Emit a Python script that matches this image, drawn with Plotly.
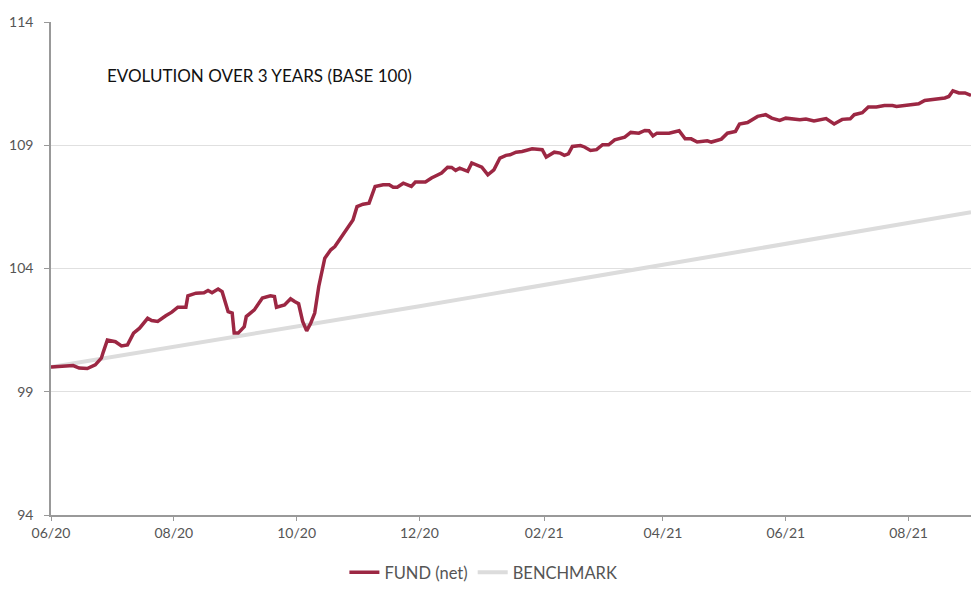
import plotly.graph_objects as go

# ---- data ----
fund_dates = [
    "2020-06-01", "2020-06-06", "2020-06-12", "2020-06-15", "2020-06-19", "2020-06-23", "2020-06-26", "2020-06-27",
    "2020-06-29", "2020-07-03", "2020-07-06", "2020-07-09", "2020-07-12", "2020-07-15", "2020-07-19", "2020-07-21",
    "2020-07-24", "2020-07-28", "2020-07-31", "2020-08-03", "2020-08-07", "2020-08-08", "2020-08-12", "2020-08-16",
    "2020-08-18", "2020-08-20", "2020-08-23", "2020-08-25", "2020-08-27", "2020-08-28", "2020-08-30", "2020-08-31",
    "2020-09-02", "2020-09-05", "2020-09-06", "2020-09-10", "2020-09-14", "2020-09-18", "2020-09-20", "2020-09-21",
    "2020-09-25", "2020-09-28", "2020-09-30", "2020-10-02", "2020-10-04", "2020-10-06", "2020-10-08", "2020-10-10",
    "2020-10-12", "2020-10-13", "2020-10-15", "2020-10-18", "2020-10-20", "2020-10-24", "2020-10-27", "2020-10-29",
    "2020-10-31", "2020-11-03", "2020-11-06", "2020-11-09", "2020-11-13", "2020-11-16", "2020-11-18", "2020-11-20",
    "2020-11-23", "2020-11-27", "2020-11-29", "2020-12-04", "2020-12-07", "2020-12-12", "2020-12-15", "2020-12-17",
    "2020-12-19", "2020-12-21", "2020-12-25", "2020-12-27", "2021-01-01", "2021-01-04", "2021-01-07", "2021-01-10",
    "2021-01-13", "2021-01-15", "2021-01-18", "2021-01-21", "2021-01-26", "2021-01-30", "2021-01-31", "2021-02-02",
    "2021-02-06", "2021-02-09", "2021-02-11", "2021-02-13", "2021-02-15", "2021-02-19", "2021-02-21", "2021-02-24",
    "2021-02-27", "2021-03-02", "2021-03-05", "2021-03-08", "2021-03-13", "2021-03-16", "2021-03-20", "2021-03-23",
    "2021-03-25", "2021-03-27", "2021-03-29", "2021-04-04", "2021-04-07", "2021-04-09", "2021-04-12", "2021-04-15",
    "2021-04-18", "2021-04-23", "2021-04-25", "2021-04-30", "2021-05-03", "2021-05-07", "2021-05-09", "2021-05-13",
    "2021-05-18", "2021-05-22", "2021-05-25", "2021-05-29", "2021-06-01", "2021-06-05", "2021-06-08", "2021-06-11",
    "2021-06-15", "2021-06-21", "2021-06-25", "2021-06-29", "2021-07-03", "2021-07-05", "2021-07-09", "2021-07-12",
    "2021-07-16", "2021-07-20", "2021-07-24", "2021-07-26", "2021-07-29", "2021-08-03", "2021-08-06", "2021-08-09",
    "2021-08-15", "2021-08-19", "2021-08-21", "2021-08-23", "2021-08-26", "2021-08-29", "2021-09-01",
]
fund_values = [
    100.00, 100.03, 100.06, 99.96, 99.94, 100.09, 100.36, 100.62,
    101.10, 101.03, 100.86, 100.90, 101.38, 101.58, 101.98, 101.89,
    101.85, 102.08, 102.23, 102.43, 102.43, 102.89, 103.00, 103.02,
    103.11, 103.02, 103.17, 103.06, 102.59, 102.25, 102.19, 101.38,
    101.38, 101.64, 102.05, 102.32, 102.80, 102.89, 102.86, 102.43,
    102.52, 102.77, 102.66, 102.57, 101.85, 101.47, 101.78, 102.19,
    103.27, 103.67, 104.42, 104.76, 104.89, 105.37, 105.77, 105.97,
    106.51, 106.61, 106.65, 107.33, 107.40, 107.40, 107.30, 107.30,
    107.46, 107.33, 107.51, 107.51, 107.67, 107.87, 108.11, 108.10,
    107.98, 108.07, 107.94, 108.28, 108.11, 107.80, 108.00, 108.48,
    108.59, 108.61, 108.72, 108.75, 108.86, 108.84, 108.82, 108.52,
    108.72, 108.68, 108.59, 108.65, 108.95, 108.99, 108.93, 108.79,
    108.82, 109.02, 109.02, 109.22, 109.33, 109.52, 109.49, 109.60,
    109.59, 109.38, 109.49, 109.49, 109.56, 109.59, 109.26, 109.26,
    109.13, 109.18, 109.13, 109.25, 109.49, 109.56, 109.86, 109.92,
    110.17, 110.24, 110.10, 110.01, 110.10, 110.07, 110.03, 110.06,
    109.99, 110.08, 109.86, 110.05, 110.07, 110.24, 110.32, 110.55,
    110.55, 110.61, 110.61, 110.57, 110.60, 110.64, 110.68, 110.82,
    110.87, 110.92, 110.98, 111.21, 111.12, 111.12, 111.02,
]

bench_dates = [
    "2020-06-01", "2020-07-01", "2020-08-01", "2020-09-01", "2020-10-01", "2020-11-01",
    "2020-12-01", "2021-01-01", "2021-02-01", "2021-03-01", "2021-04-01", "2021-05-01",
    "2021-06-01", "2021-07-01", "2021-08-01", "2021-09-01",
]
bench_values = [
    100.00, 100.40, 100.82, 101.24, 101.64, 102.06,
    102.47, 102.90, 103.33, 103.71, 104.14, 104.55,
    104.99, 105.40, 105.85, 106.28,
]

y_ticks = [94, 99, 104, 109, 114]
series_names = ["FUND (net)", "BENCHMARK"]
chart_title = "EVOLUTION OVER 3 YEARS (BASE 100)"

FUND_COLOR = "#9C2743"
BENCH_COLOR = "#DCDCDC"
FONT = "Lato, 'Open Sans', sans-serif"

fig = go.Figure()
fig.add_trace(go.Scatter(
    x=bench_dates, y=bench_values, name=series_names[1], mode="lines",
    line=dict(color=BENCH_COLOR, width=4), hoverinfo="skip",
))
fig.add_trace(go.Scatter(
    x=fund_dates, y=fund_values, name=series_names[0], mode="lines",
    line=dict(color=FUND_COLOR, width=3.5),
))

fig.update_layout(
    width=971, height=590,
    margin=dict(l=51, r=0, t=22, b=75, autoexpand=False),
    paper_bgcolor="white", plot_bgcolor="white",
    font=dict(family=FONT, color="#555555", size=13),
    showlegend=True,
    legend=dict(
        orientation="h", x=0.47, xanchor="center",
        yref="container", y=0.0, yanchor="bottom",
        font=dict(size=16.5, color="#555555", family=FONT),
        traceorder="reversed", itemwidth=30,
    ),
    annotations=[dict(
        text=chart_title, xref="paper", yref="paper", x=0.0587, y=0.891,
        xanchor="left", yanchor="middle", showarrow=False,
        font=dict(size=17, color="#111111", family=FONT),
    )],
)
fig.update_xaxes(
    type="date", range=["2020-06-01", "2021-09-01"],
    tickformat="%m/%y", dtick="M2", tick0="2020-06-01",
    showgrid=False, showline=True, linecolor="#999999", linewidth=1.5,
    ticks="outside", ticklen=4, tickcolor="#999999",
    tickfont=dict(size=14, color="#555555"),
    zeroline=False,
)
fig.update_yaxes(
    range=[94, 114], tickvals=y_ticks,
    showgrid=True, gridcolor="#E0E0E0", gridwidth=1,
    showline=True, linecolor="#999999", linewidth=1.5,
    ticks="outside", ticklen=5, tickcolor="#999999",
    ticklabelstandoff=8,
    tickfont=dict(size=14, color="#555555"),
    zeroline=False,
)

fig.write_html("out.html")
